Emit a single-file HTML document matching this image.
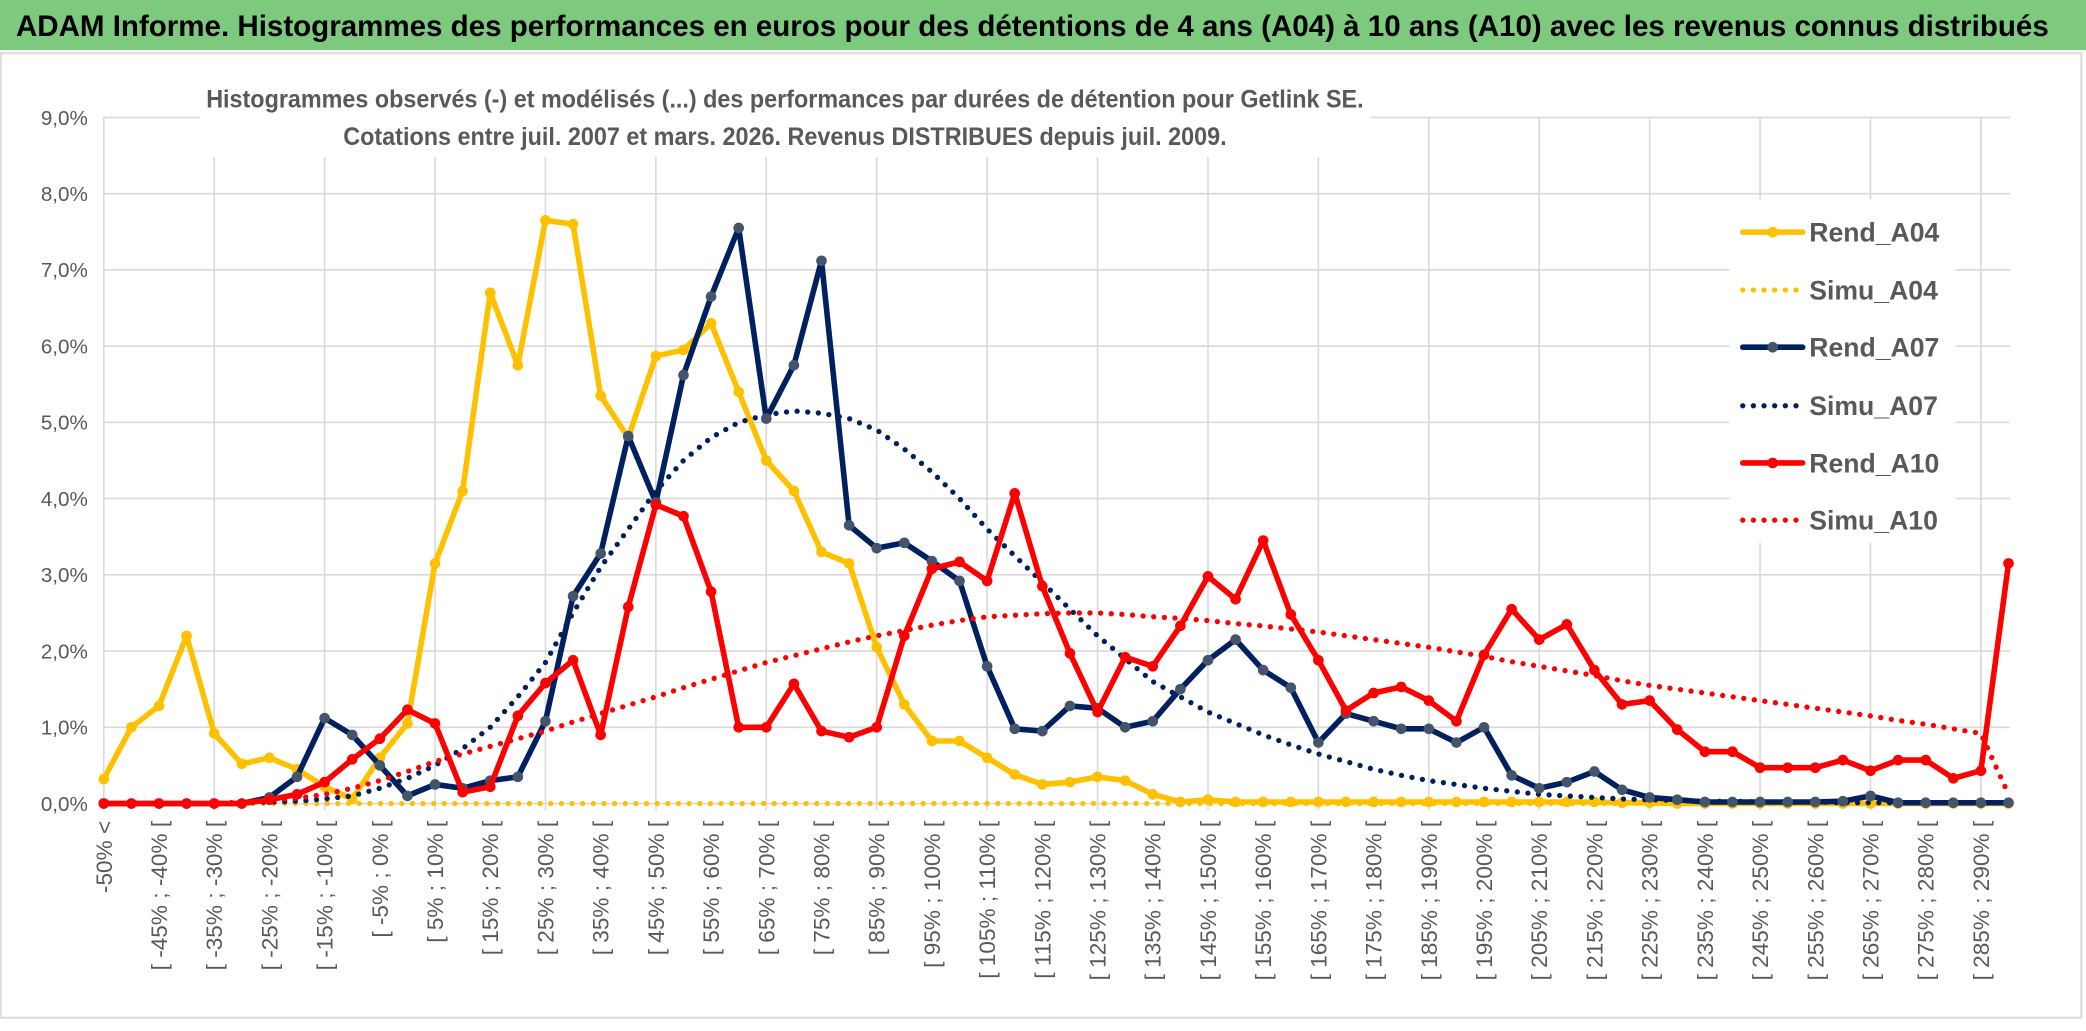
<!DOCTYPE html>
<html><head><meta charset="utf-8"><style>
html,body{margin:0;padding:0;background:#fff;}
svg{display:block;font-family:"Liberation Sans",sans-serif;}
</style></head><body>
<svg id="chart" width="2086" height="1031" viewBox="0 0 1568 775" preserveAspectRatio="none" xmlns="http://www.w3.org/2000/svg">
<rect x="0" y="0" width="1568" height="37.6" fill="#7DC97E"/>
<text x="12" y="27" font-size="22" font-weight="bold" fill="#000" textLength="1528" lengthAdjust="spacingAndGlyphs">ADAM Informe. Histogrammes des performances en euros pour des détentions de 4 ans (A04) à 10 ans (A10) avec les revenus connus distribués</text>
<rect x="0.5" y="40" width="1564" height="725" fill="#fff" stroke="#D9D9D9" stroke-width="1.5"/>
<g id="grid"></g>
<g id="yaxis"></g>
<g id="xaxis"></g>
<rect x="150" y="58" width="880" height="60" fill="#fff"/>
<text x="590" y="81" font-size="19" font-weight="bold" fill="#595959" text-anchor="middle" textLength="870" lengthAdjust="spacingAndGlyphs">Histogrammes observés (-) et modélisés (...) des performances par durées de détention pour Getlink SE.</text>
<text x="590" y="109" font-size="19" font-weight="bold" fill="#595959" text-anchor="middle" textLength="664" lengthAdjust="spacingAndGlyphs">Cotations entre juil. 2007 et mars. 2026. Revenus DISTRIBUES depuis juil. 2009.</text>
<rect x="1300" y="150" width="170" height="258" fill="#fff"/>
<g id="series"></g>
<g id="legend"></g>
</svg>
<script>
const rendA04=[0.32,1.0,1.28,2.2,0.92,0.52,0.6,0.45,0.22,0.06,0.6,1.05,3.15,4.1,6.7,5.75,7.65,7.6,5.35,4.8,5.87,5.95,6.3,5.4,4.5,4.1,3.3,3.15,2.05,1.3,0.82,0.82,0.6,0.38,0.25,0.28,0.35,0.3,0.12,0.02,0.05,0.02,0.02,0.02,0.02,0.02,0.02,0.02,0.02,0.02,0.02,0.02,0.02,0.02,0.02,0.01,0.01,0,0,0,0,0,0,0,0,0,0,0,0,0];
const simuA04=[0,0,0,0,0,0,0,0,0,0,0,0,0,0,0,0,0,0,0,0,0,0,0,0,0,0,0,0,0,0,0,0,0,0,0,0,0,0,0,0,0,0,0,0,0,0,0,0,0,0,0,0,0,0,0,0,0,0,0,0,0,0,0,0,0,0,0,0,0,0];
const rendA07=[0,0,0,0,0,0,0.08,0.35,1.12,0.9,0.5,0.1,0.25,0.2,0.3,0.35,1.08,2.72,3.28,4.82,3.95,5.62,6.65,7.55,5.05,5.75,7.12,3.65,3.35,3.42,3.18,2.92,1.8,0.98,0.95,1.28,1.25,1.0,1.08,1.5,1.88,2.15,1.75,1.52,0.8,1.18,1.08,0.98,0.98,0.8,1.0,0.37,0.2,0.28,0.42,0.18,0.08,0.05,0.02,0.02,0.02,0.02,0.02,0.03,0.1,0.01,0.01,0.01,0.01,0.01];
const simuA07=[0,0,0,0,0,0.01,0.02,0.03,0.06,0.1,0.2,0.33,0.5,0.72,1.0,1.4,1.85,2.5,3.1,3.6,4.1,4.5,4.8,5.0,5.1,5.15,5.12,5.05,4.9,4.65,4.35,4.0,3.6,3.25,2.9,2.55,2.2,1.9,1.6,1.4,1.2,1.05,0.9,0.77,0.65,0.55,0.45,0.37,0.3,0.25,0.2,0.16,0.12,0.1,0.08,0.06,0.05,0.04,0.03,0.03,0.02,0.02,0.02,0.01,0.01,0.01,0.01,0.01,0.01,0.01];
const rendA10=[0,0,0,0,0,0,0.05,0.12,0.28,0.58,0.85,1.23,1.05,0.15,0.22,1.15,1.58,1.88,0.9,2.58,3.92,3.77,2.78,1.0,1.0,1.57,0.95,0.87,1.0,2.2,3.08,3.17,2.92,4.07,2.85,1.97,1.2,1.92,1.8,2.33,2.98,2.68,3.45,2.48,1.88,1.22,1.45,1.53,1.35,1.08,1.95,2.55,2.15,2.35,1.75,1.3,1.35,0.97,0.68,0.68,0.47,0.47,0.47,0.57,0.43,0.57,0.57,0.33,0.43,3.15];
const simuA10=[0,0,0,0,0,0.02,0.04,0.07,0.12,0.2,0.3,0.42,0.55,0.65,0.75,0.85,0.95,1.07,1.18,1.29,1.4,1.52,1.63,1.74,1.85,1.94,2.03,2.12,2.2,2.27,2.34,2.4,2.45,2.47,2.49,2.5,2.5,2.48,2.45,2.43,2.4,2.36,2.33,2.29,2.25,2.2,2.15,2.1,2.05,1.99,1.93,1.86,1.8,1.74,1.68,1.61,1.55,1.5,1.45,1.4,1.35,1.3,1.25,1.2,1.15,1.09,1.04,0.98,0.92,0.12];
const yTicks=["0,0%","1,0%","2,0%","3,0%","4,0%","5,0%","6,0%","7,0%","8,0%","9,0%"];
const categories=["-50% <"];
for(let k=1;k<70;k++){categories.push("[ "+(-55+5*k)+"% ; "+(-50+5*k)+"% [");}

const NS="http://www.w3.org/2000/svg";
const X0=78, DX=20.75, Y0=604, DY=57.3;
function xs(i){return X0+i*DX;}
function ys(v){return Y0-v*DY;}
function mk(tag,attrs,parent){const e=document.createElementNS(NS,tag);for(const k in attrs)e.setAttribute(k,attrs[k]);parent.appendChild(e);return e;}
const grid=document.getElementById('grid'),yax=document.getElementById('yaxis'),xax=document.getElementById('xaxis'),ser=document.getElementById('series'),leg=document.getElementById('legend');
const xEnd=xs(categories.length-1)+1;
yTicks.forEach((t,i)=>{
  const l=mk('line',{x1:X0,x2:xEnd,y1:ys(i),y2:ys(i),stroke:'#D9D9D9','stroke-width':1.2},grid);
  
  
  const tx=mk('text',{x:66,y:ys(i)+5.5,'font-size':15.5,fill:'#595959','text-anchor':'end'},yax);
  tx.textContent=t;
  
  
});
for(let i=0;i<categories.length;i+=4){
  const l=mk('line',{x1:xs(i),x2:xs(i),y1:ys(9),y2:Y0+5,stroke:'#D9D9D9','stroke-width':1.2},grid);
  
  
}
for(let i=0;i<categories.length;i+=2){
  const tx=mk('text',{x:0,y:0,'font-size':17,fill:'#595959','text-anchor':'end',transform:'translate('+(xs(i)+6)+',617) rotate(-90)'},xax);
  tx.textContent=categories[i];
  
  
}
function pathD(arr){return arr.map((v,i)=>(i?'L':'M')+xs(i).toFixed(2)+' '+ys(v).toFixed(2)).join(' ');}
function dotted(arr,color,name){
  const p=mk('path',{d:pathD(arr),fill:'none',stroke:color,'stroke-width':4,'stroke-linecap':'round','stroke-dasharray':'0 8'},ser);
  
  
}
function solid(arr,color,mcol,name){
  const g=mk('g',{},ser);
  
  
  mk('path',{d:pathD(arr),fill:'none',stroke:color,'stroke-width':4.2,'stroke-linejoin':'round'},g);
  arr.forEach((v,i)=>{
    const c=mk('circle',{cx:xs(i),cy:ys(v),r:4,fill:mcol},g);
    
    
  });
}
dotted(simuA04,'#FFC000','simu-a04-line');
solid(rendA04,'#FFC000','#FFC000','rend-a04-line');
dotted(simuA07,'#002060','simu-a07-line');
solid(rendA07,'#002060','#44546A','rend-a07-line');
dotted(simuA10,'#FF0000','simu-a10-line');
solid(rendA10,'#FF0000','#FF0000','rend-a10-line');

const legItems=[["Rend_A04",'#FFC000','#FFC000',false],["Simu_A04",'#FFC000',null,true],["Rend_A07",'#002060','#44546A',false],["Simu_A07",'#002060',null,true],["Rend_A10",'#FF0000','#FF0000',false],["Simu_A10",'#FF0000',null,true]];
const legY=[174.5,218,261,305,348,391];
legItems.forEach((it,i)=>{
  const g=mk('g',{},leg);
  
  
  const y=legY[i];
  if(it[3]){mk('line',{x1:1310,x2:1352,y1:y,y2:y,stroke:it[1],'stroke-width':4,'stroke-linecap':'round','stroke-dasharray':'0 8'},g);}
  else{mk('line',{x1:1310,x2:1355,y1:y,y2:y,stroke:it[1],'stroke-width':4.2,'stroke-linecap':'round'},g);mk('circle',{cx:1332.5,cy:y,r:4,fill:it[2]},g);}
  const t=mk('text',{x:1360,y:y+7,'font-size':20,'font-weight':'bold',fill:'#595959'},g);
  t.textContent=it[0];
});
</script>
</body></html>
